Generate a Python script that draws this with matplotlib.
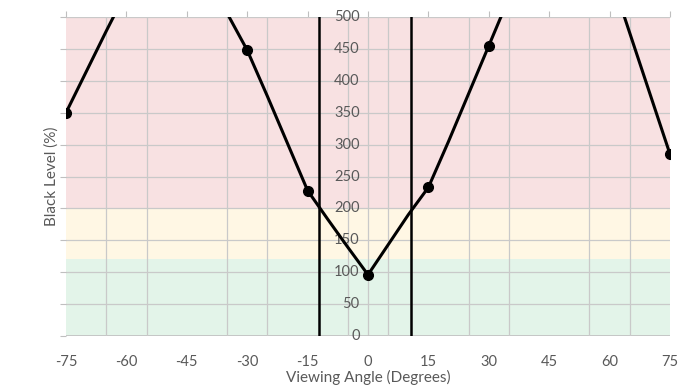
import numpy as np
import matplotlib.pyplot as plt
import matplotlib.transforms as mtransforms

# measured points (markers); values above 500 fall off the chart
angles = [-75, -60, -45, -30, -15, 0, 15, 30, 45, 60, 75]
black_level = [350, 540, 585, 448, 228, 96, 233, 455, 650, 570, 285]

# traced curve every 5 degrees
line_angles = [-75, -70, -65, -60, -55, -50, -45, -40, -35, -30, -25, -20, -15, -10, -5, 0,
               5, 10, 15, 20, 25, 30, 35, 40, 45, 50, 55, 60, 65, 70, 75]
line_values = [350, 414, 478, 540, 580, 595, 585, 550, 506, 448, 376, 302, 228, 183, 139, 96,
               143, 190, 233, 305, 380, 455, 530, 600, 650, 665, 640, 570, 475, 380, 285]

limit_angles = [-12.2, 10.7]

x_ticks = [-75, -60, -45, -30, -15, 0, 15, 30, 45, 60, 75]
y_ticks = [0, 50, 100, 150, 200, 250, 300, 350, 400, 450, 500]

# background bands: (bottom, top, colour)
bands = [(0, 120, "#e3f4e9"), (120, 200, "#fff7e4"), (200, 500, "#f8e1e2")]

plt.rcParams['font.family'] = ['Lato', 'DejaVu Sans']
plt.rcParams['axes.unicode_minus'] = False
grey = "#595959"
gridc = "#c9c9c9"

fig = plt.figure(figsize=(6.94, 3.9), dpi=100)
ax = fig.add_axes([66/694, 1 - 336/390, 604/694, 319/390])

for lo, hi, c in bands:
    ax.axhspan(lo, hi, color=c, zorder=0, lw=0)

ax.set_xlim(-75, 75)
ax.set_ylim(0, 500)

# grid
ax.set_xticks(x_ticks)
ax.set_xticks(np.arange(-75, 76, 10), minor=True)
ax.set_yticks(y_ticks)
ax.grid(which='minor', axis='x', color=gridc, lw=0.9, zorder=1)
ax.grid(which='major', axis='y', color=gridc, lw=0.9, zorder=1)
ax.axvline(0, color=gridc, lw=0.9, zorder=1)
for s in ax.spines.values():
    s.set_visible(False)
ax.axhline(0, color="#bfbfbf", lw=1.2, zorder=1)

ax.tick_params(axis='x', which='major', bottom=False, top=True, labelbottom=True,
               labeltop=False, length=4, color="#bfbfbf", pad=10, labelsize=10.5,
               labelcolor=grey)
ax.tick_params(axis='x', which='minor', bottom=False, top=False)
ax.tick_params(axis='y', left=True, labelleft=False, length=4, color="#bfbfbf")

# y labels sit on the 0 degree axis
trans = mtransforms.offset_copy(ax.transData, fig=fig, x=-6, y=0, units='points')
for v in y_ticks:
    ax.text(0, v, str(v), transform=trans, ha='right', va='center',
            fontsize=10.5, color=grey, zorder=2)

ax.set_xlabel("Viewing Angle (Degrees)", color=grey, fontsize=11, labelpad=0)
ax.set_ylabel("Black Level (%)", color=grey, fontsize=11, labelpad=1)

ax.plot(line_angles, line_values, color="black", lw=2.2, zorder=3,
        solid_joinstyle='round')
ax.plot(angles, black_level, 'o', color="black", ms=7, zorder=4)

for a in limit_angles:
    ax.axvline(a, color="black", lw=1.8, zorder=3)

fig.savefig("out.png", dpi=100)
